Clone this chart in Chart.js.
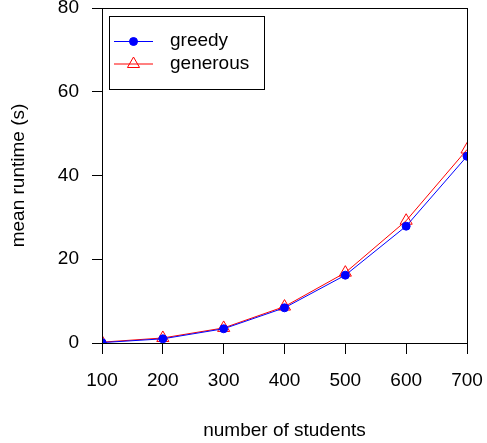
<!DOCTYPE html>
<html>
<head>
<meta charset="utf-8">
<script src="https://cdn.jsdelivr.net/npm/chart.js@4"></script>
<style>
  html, body { margin: 0; padding: 0; background: #fff; }
  #wrap { width: 487px; height: 443px; position: relative; }
</style>
</head>
<body>
<div id="wrap"><canvas id="runtimeChart"></canvas></div>
<script>
// data
const students = [100, 200, 300, 400, 500, 600, 700];
const greedyRuntime = [0.1, 1.0, 3.4, 8.4, 16.2, 27.9, 44.6];
const generousRuntime = [0.2, 1.2, 3.6, 8.7, 16.8, 29.2, 46.2];
const xTicks = [100, 200, 300, 400, 500, 600, 700];
const yTicks = [0, 20, 40, 60, 80];

const FONT = "'Liberation Sans', Arial, sans-serif";
Chart.defaults.font.family = FONT;
Chart.defaults.color = "#000";

// box round the plot region, like R's box()
const boxPlugin = {
  id: "plotBox",
  afterDatasetsDraw(chart) {
    const { ctx, chartArea: a } = chart;
    ctx.save();
    ctx.strokeStyle = "#000";
    ctx.lineWidth = 1;
    ctx.strokeRect(Math.round(a.left) + 0.5, Math.round(a.top) + 0.5,
      Math.round(a.right - a.left), Math.round(a.bottom - a.top));
    ctx.restore();
  }
};

// legend in the top-left corner
const legendPlugin = {
  id: "cornerLegend",
  afterDraw(chart) {
    const ctx = chart.ctx;
    ctx.save();
    ctx.fillStyle = "#fff";
    ctx.fillRect(109.5, 16.5, 155, 73);
    ctx.strokeStyle = "#000";
    ctx.lineWidth = 1;
    ctx.strokeRect(109.5, 16.5, 155, 73);

    chart.data.datasets.forEach((ds, i) => {
      const y = 41 + i * 22.5;
      ctx.strokeStyle = ds.borderColor;
      ctx.lineWidth = 1;
      ctx.beginPath();
      ctx.moveTo(114, y + 0.5);
      ctx.lineTo(153, y + 0.5);
      ctx.stroke();
      // drawPoint fills and strokes with the current styles
      ctx.fillStyle = ds.pointBackgroundColor;
      ctx.strokeStyle = ds.pointBorderColor;
      Chart.helpers.drawPoint(ctx, {
        pointStyle: ds.pointStyle,
        radius: ds.pointRadius,
        rotation: 0,
        borderWidth: 1
      }, 133.5, y + 0.5);

      ctx.fillStyle = "#000";
      ctx.font = "19px " + FONT;
      ctx.textBaseline = "middle";
      ctx.textAlign = "left";
      ctx.fillText(ds.label, 170, y);
    });
    ctx.restore();
  }
};

const tickGrid = {
  drawOnChartArea: false,
  drawTicks: true,
  color: "#000",
  tickColor: "#000"
};

new Chart(document.getElementById("runtimeChart"), {
  type: "line",
  data: {
    labels: students,
    datasets: [
      {
        label: "greedy",
        data: students.map((s, i) => ({ x: s, y: greedyRuntime[i] })),
        borderColor: "#0000ff",
        backgroundColor: "#0000ff",
        pointBackgroundColor: "#0000ff",
        pointBorderColor: "#0000ff",
        pointStyle: "circle",
        pointRadius: 4,
        borderWidth: 1,
        tension: 0
      },
      {
        label: "generous",
        data: students.map((s, i) => ({ x: s, y: generousRuntime[i] })),
        borderColor: "#ff0000",
        backgroundColor: "rgba(0,0,0,0)",
        pointBackgroundColor: "rgba(0,0,0,0)",
        pointBorderColor: "#ff0000",
        pointStyle: "triangle",
        pointRadius: 7,
        borderWidth: 1,
        tension: 0
      }
    ]
  },
  options: {
    responsive: true,
    maintainAspectRatio: false,
    animation: false,
    layout: { padding: { top: 7, right: 20, left: 0, bottom: 0 } },
    plugins: {
      legend: { display: false },
      tooltip: { enabled: false }
    },
    scales: {
      x: {
        type: "linear",
        min: 100,
        max: 700,
        afterBuildTicks: (s) => { s.ticks = xTicks.map(v => ({ value: v })); },
        afterFit: (s) => { s.height = 100; s.paddingLeft = 0; s.paddingRight = 0; },
        ticks: { font: { size: 19 }, padding: 15, maxRotation: 0 },
        grid: { ...tickGrid, tickLength: 11 },
        border: { display: false },
        title: {
          display: true,
          text: "number of students",
          font: { size: 19 },
          padding: { top: 0, bottom: 1 }
        }
      },
      y: {
        type: "linear",
        min: 0,
        max: 80,
        afterBuildTicks: (s) => { s.ticks = yTicks.map(v => ({ value: v })); },
        afterFit: (s) => { s.width = 102; s.paddingTop = 0; s.paddingBottom = 0; },
        ticks: { font: { size: 19 }, padding: 13 },
        grid: { ...tickGrid, tickLength: 10 },
        border: { display: false },
        title: {
          display: true,
          text: "mean runtime (s)",
          font: { size: 19 },
          padding: { top: 7, bottom: 0 }
        }
      }
    }
  },
  plugins: [boxPlugin, legendPlugin]
});
</script>
</body>
</html>
